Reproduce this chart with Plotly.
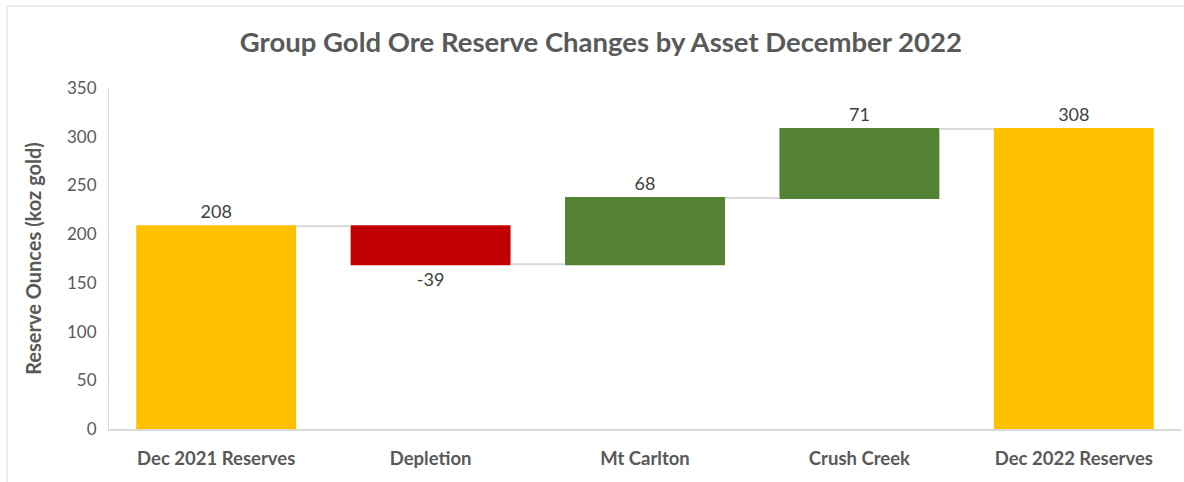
import plotly.graph_objects as go

categories = ["Dec 2021 Reserves", "Depletion", "Mt Carlton", "Crush Creek", "Dec 2022 Reserves"]
values = [208, -39, 68, 71, 308]
measures = ["absolute", "relative", "relative", "relative", "total"]
labels = ["208", "-39", "68", "71", "308"]
y_ticks = [0, 50, 100, 150, 200, 250, 300, 350]

FONT = "Lato"
GREY = "#595959"

fig = go.Figure(go.Waterfall(
    x=categories,
    y=values,
    measure=measures,
    text=labels,
    textposition="outside",
    textfont=dict(family=FONT, size=18, color="#404040"),
    increasing=dict(marker=dict(color="#548235")),
    decreasing=dict(marker=dict(color="#C00000")),
    totals=dict(marker=dict(color="#FFC000")),
    connector=dict(line=dict(color="#D9D9D9", width=2)),
    cliponaxis=False,
))

fig.update_layout(
    width=1184, height=482,
    margin=dict(l=109, r=3, t=88, b=53),
    paper_bgcolor="white", plot_bgcolor="white",
    showlegend=False,
    waterfallgap=0.254,
    title=dict(text="<b>Group Gold Ore Reserve Changes by Asset December 2022</b>",
               x=0.5075, xanchor="center", y=0.913, yanchor="middle",
               font=dict(family=FONT, size=27.5, color=GREY)),
    xaxis=dict(showgrid=False, showline=True, linecolor="#D9D9D9", linewidth=1.5,
               ticks="", tickfont=dict(family=FONT, size=18.5, color=GREY),
               ticklabelstandoff=12,
               tickprefix="<b>", ticksuffix="</b>"),
    yaxis=dict(range=[0, 350], tickvals=y_ticks, showgrid=False, showline=True,
               linecolor="#D9D9D9", linewidth=1, ticks="", zeroline=False,
               tickfont=dict(family=FONT, size=17, color=GREY),
               ticklabelstandoff=8,
               title=dict(text="<b>Reserve Ounces (koz gold)</b>", standoff=20,
                          font=dict(family=FONT, size=20, color=GREY))),
    shapes=[dict(type="rect", xref="paper", yref="paper",
                 x0=(7 - 109) / 1072, x1=(1200 - 109) / 1072,
                 y0=(429 - 500) / 341, y1=(429 - 6) / 341,
                 line=dict(color="#D9D9D9", width=1), fillcolor="rgba(0,0,0,0)",
                 layer="below")],
)

fig.write_html("out.html", config={"displayModeBar": False},
               post_script="document.body.style.margin='0';document.body.style.overflow='hidden';")
